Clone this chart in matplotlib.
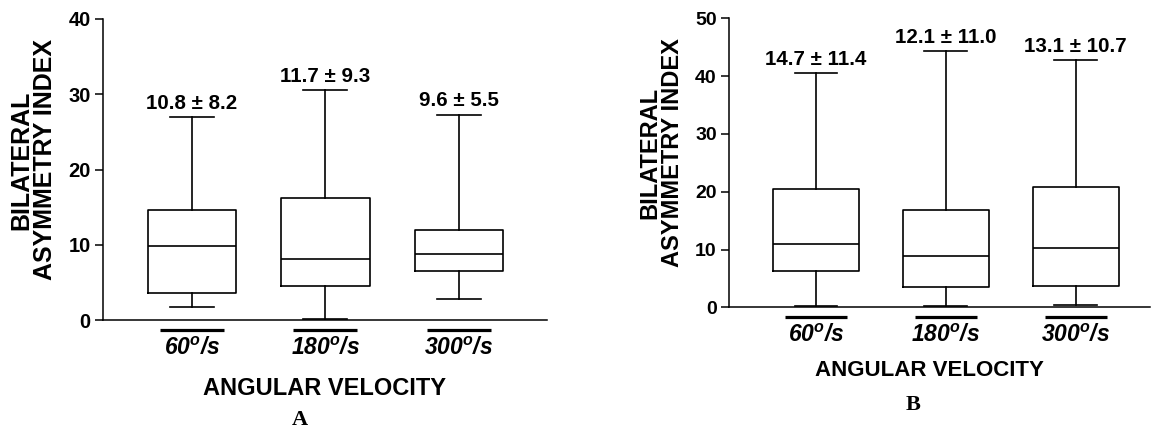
import matplotlib
matplotlib.use("Agg")
import matplotlib.pyplot as plt

plt.rcParams['font.family'] = ['Liberation Sans', 'DejaVu Sans']
plt.rcParams['font.weight'] = 'bold'
plt.rcParams['mathtext.fontset'] = 'custom'
plt.rcParams['mathtext.rm'] = 'Liberation Sans:bold:italic'
plt.rcParams['mathtext.it'] = 'Liberation Sans:bold:italic'
plt.rcParams['mathtext.bf'] = 'Liberation Sans:bold:italic'

# ---- data ----
categories = ['60', '180', '300']

a_q1 = [3.55, 4.5, 6.5]
a_med = [9.8, 8.15, 8.8]
a_q3 = [14.6, 16.2, 11.9]
a_lo = [1.7, 0.1, 2.75]
a_hi = [27.0, 30.5, 27.3]
a_mean = [10.8, 11.7, 9.6]
a_sd = [8.2, 9.3, 5.5]

b_q1 = [6.3, 3.5, 3.7]
b_med = [11.0, 8.9, 10.3]
b_q3 = [20.5, 16.8, 20.8]
b_lo = [0.3, 0.3, 0.4]
b_hi = [40.5, 44.3, 42.7]
b_mean = [14.7, 12.1, 13.1]
b_sd = [11.4, 11.0, 10.7]

a_yticks = [0, 10, 20, 30, 40]
b_yticks = [0, 10, 20, 30, 40, 50]

ylabel_text = 'BILATERAL\nASYMMETRY INDEX'
xlabel_text = 'ANGULAR VELOCITY'

fig = plt.figure(figsize=(11.51, 4.30), dpi=100)
axA = fig.add_axes([103/1151, 110/430, 444/1151, 301/430])
axB = fig.add_axes([729/1151, (430-307.3)/430, 421/1151, 289/430])


def draw(ax, q1, med, q3, lo, hi, mean, sd, yticks, xlim, tick_fs, ann_fs, cat_fs):
    stats = []
    for i in range(len(categories)):
        stats.append(dict(med=med[i], q1=q1[i], q3=q3[i], whislo=lo[i], whishi=hi[i], fliers=[]))
    pos = list(range(1, len(categories) + 1))
    lw = 1.2
    ax.bxp(stats, positions=pos, widths=0.66, showfliers=False, patch_artist=False,
           boxprops=dict(color='black', linewidth=lw),
           medianprops=dict(color='black', linewidth=lw),
           whiskerprops=dict(color='black', linewidth=lw),
           capprops=dict(color='black', linewidth=lw),
           capwidths=0.33, manage_ticks=False)
    ax.set_xlim(*xlim)
    ax.set_ylim(yticks[0], yticks[-1])
    ax.set_yticks(yticks)
    ax.set_xticks([])
    for s in ['top', 'right']:
        ax.spines[s].set_visible(False)
    for s in ['left', 'bottom']:
        ax.spines[s].set_linewidth(1.1)
    ax.tick_params(axis='y', length=5.8, width=1.1, pad=3.0, labelsize=tick_fs)
    for lab in ax.get_yticklabels():
        lab.set_fontweight('bold')
    for i, p in enumerate(pos):
        ax.annotate(f'{mean[i]:.1f} ± {sd[i]:.1f}', xy=(p, hi[i]), xytext=(0, 3.0),
                    textcoords='offset points', ha='center', va='bottom',
                    fontsize=ann_fs, fontweight='bold')
        ax.plot([p - 0.24, p + 0.24], [-0.033, -0.033], transform=ax.get_xaxis_transform(),
                color='black', linewidth=2.3, clip_on=False, solid_capstyle='butt')
        ax.annotate(f'${categories[i]}^{{o}}/s$', xy=(p, 0), xycoords=('data', 'axes fraction'),
                    xytext=(0, -12), textcoords='offset points', ha='center', va='top',
                    fontsize=cat_fs)


draw(axA, a_q1, a_med, a_q3, a_lo, a_hi, a_mean, a_sd, a_yticks, (0.333, 3.66), 14.5, 14.8, 16.5)
draw(axB, b_q1, b_med, b_q3, b_lo, b_hi, b_mean, b_sd, b_yticks, (0.33, 3.572), 14, 14.8, 16.5)

axA.set_xlabel(xlabel_text, fontsize=17, fontweight='bold')
axA.xaxis.set_label_coords(0.5, -0.189)
axB.set_xlabel(xlabel_text, fontsize=16, fontweight='bold')
axB.xaxis.set_label_coords(0.475, -0.182)

fig.text(33.5/1151, 1 - 160/430, ylabel_text, rotation=90, ha='center', va='center',
         multialignment='center', fontsize=18, fontweight='bold', linespacing=1.0)
fig.text(661/1151, 1 - 152.5/430, ylabel_text, rotation=90, ha='center', va='center',
         multialignment='center', fontsize=17, fontweight='bold', linespacing=1.0)

fig.text(300/1151, 1 - 420/430, 'A', ha='center', va='center', fontsize=16,
         fontweight='bold', family='Liberation Serif')
fig.text(913/1151, 1 - 405/430, 'B', ha='center', va='center', fontsize=16,
         fontweight='bold', family='Liberation Serif')

fig.savefig('out.png', dpi=100)
